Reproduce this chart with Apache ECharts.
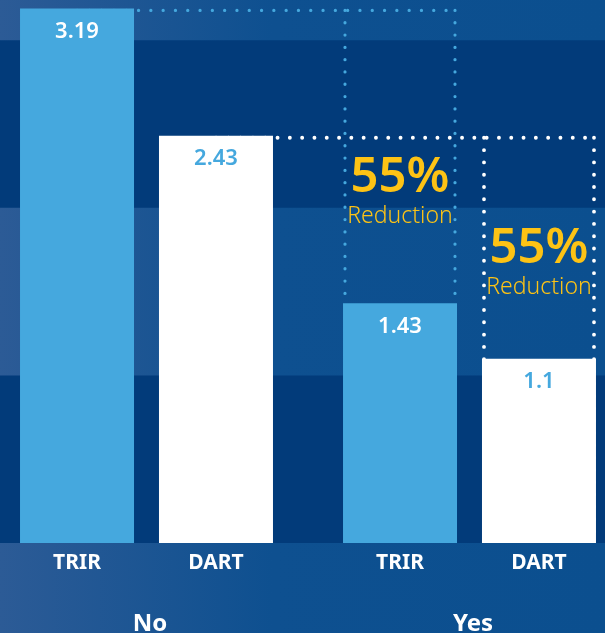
<!DOCTYPE html>
<html>
<head>
<meta charset="utf-8">
<style>
  html, body { margin: 0; padding: 0; }
  #chart { width: 605px; height: 633px; }
</style>
<script src="https://cdn.jsdelivr.net/npm/echarts@6/dist/echarts.min.js"></script>
</head>
<body>
<div id="chart"></div>
<script>
// data
var groups = ['No', 'Yes'];
var metrics = ['TRIR', 'DART'];
var trirValues = [3.19, 1.43];
var dartValues = [2.43, 1.1];

// layout / style constants
var BAR_W = 114;
var BAR_GAP = 25;
var FONT = "'Noto Sans', sans-serif";
var LIGHT_BLUE = '#45a8de';
var YELLOW = '#fdc315';
var NOTE_Y = [2.18, 1.755];   // where the "55%" text sits, in axis units
var BRACKET_COLORS = [LIGHT_BLUE, '#ffffff'];
var BRACKET_WIDTH = [3.2, 3.8];

var chart = echarts.init(document.getElementById('chart'));

// one bracket per metric: [yes group index, no value, yes value, metric index]
var bracketData = [
  [1, trirValues[0], trirValues[1], 0],
  [1, dartValues[0], dartValues[1], 1]
];

function pct(a, b) {
  return Math.round((1 - b / a) * 100) + '%';
}

chart.setOption({
  backgroundColor: new echarts.graphic.LinearGradient(0, 0, 1, 0, [
    { offset: 0, color: '#2c5b96' },
    { offset: 0.45, color: '#0e5090' },
    { offset: 1, color: '#0b4f8f' }
  ]),
  animation: false,
  grid: { left: -15, right: -26, top: 0, bottom: 90, outerBoundsMode: 'none' },
  xAxis: {
    type: 'category',
    data: groups,
    axisLine: { show: false },
    axisTick: { show: false },
    axisLabel: {
      interval: 0,
      margin: 1,
      formatter: function (v) {
        return '{t|' + metrics[0] + '}{g|}{t|' + metrics[1] + '}\n{c|' + v + '}';
      },
      rich: {
        t: { width: BAR_W, align: 'center', color: '#fff', fontSize: 21, fontWeight: 'bold', fontFamily: FONT, lineHeight: 38 },
        g: { width: BAR_GAP },
        c: { width: BAR_W * 2 + BAR_GAP, align: 'center', color: '#fff', fontSize: 24, fontWeight: 'bold', fontFamily: FONT, lineHeight: 84, padding: [0, 0, 0, 7] }
      }
    }
  },
  yAxis: {
    type: 'value',
    min: 0,
    max: 3.24,
    interval: 1,
    axisLabel: { show: false },
    axisLine: { show: false },
    axisTick: { show: false },
    splitLine: { show: false },
    splitArea: { show: true, areaStyle: { color: ['#023b7a', 'rgba(0,0,0,0)'] } }
  },
  series: [
    {
      type: 'custom',
      z: 1,
      silent: true,
      clip: false,
      encode: { x: 0, y: 1 },
      data: bracketData,
      renderItem: function (params, api) {
        var top = api.value(1);
        var bottom = api.value(2);
        var m = api.value(3);
        var off = (m === 0 ? -1 : 1) * (BAR_W + BAR_GAP) / 2;
        var pNo = api.coord([0, top]);
        var pYes = api.coord([1, top]);
        var pBase = api.coord([1, 0]);
        var cx = pYes[0] + off;
        var xl = cx - BAR_W / 2 + 2;
        var xr = cx + BAR_W / 2 - 2;
        var y = pNo[1] + 2;
        var lineStyle = {
          stroke: BRACKET_COLORS[m],
          lineWidth: BRACKET_WIDTH[m],
          lineDash: [0.1, 12.2],
          lineCap: 'round',
          fill: null
        };
        var ty = api.coord([1, NOTE_Y[m]])[1];
        return {
          type: 'group',
          children: [
            { type: 'line', shape: { x1: pNo[0] + off, y1: y, x2: xr, y2: y }, style: lineStyle },
            { type: 'line', shape: { x1: xl, y1: y, x2: xl, y2: pBase[1] }, style: lineStyle },
            { type: 'line', shape: { x1: xr, y1: y, x2: xr, y2: pBase[1] }, style: lineStyle },
            {
              type: 'text', z2: 10,
              style: { text: pct(top, bottom), x: cx, y: ty, fill: YELLOW, font: '600 49px ' + FONT, textAlign: 'center', textVerticalAlign: 'middle' }
            },
            {
              type: 'text', z2: 10,
              style: { text: 'Reduction', x: cx, y: ty + 39, fill: YELLOW, font: '300 23px ' + FONT, textAlign: 'center', textVerticalAlign: 'middle' }
            }
          ]
        };
      }
    },
    {
      name: metrics[0],
      type: 'bar',
      z: 2,
      barWidth: BAR_W,
      barGap: (BAR_GAP / BAR_W * 100).toFixed(1) + '%',
      data: trirValues,
      itemStyle: { color: LIGHT_BLUE },
      label: {
        show: true, position: 'insideTop', distance: 12,
        color: '#fff', fontSize: 22, fontWeight: 600, fontFamily: FONT
      }
    },
    {
      name: metrics[1],
      type: 'bar',
      z: 2,
      barWidth: BAR_W,
      data: dartValues,
      itemStyle: { color: '#ffffff' },
      label: {
        show: true, position: 'insideTop', distance: 12,
        color: LIGHT_BLUE, fontSize: 22, fontWeight: 600, fontFamily: FONT
      }
    }
  ]
});
</script>
</body>
</html>
